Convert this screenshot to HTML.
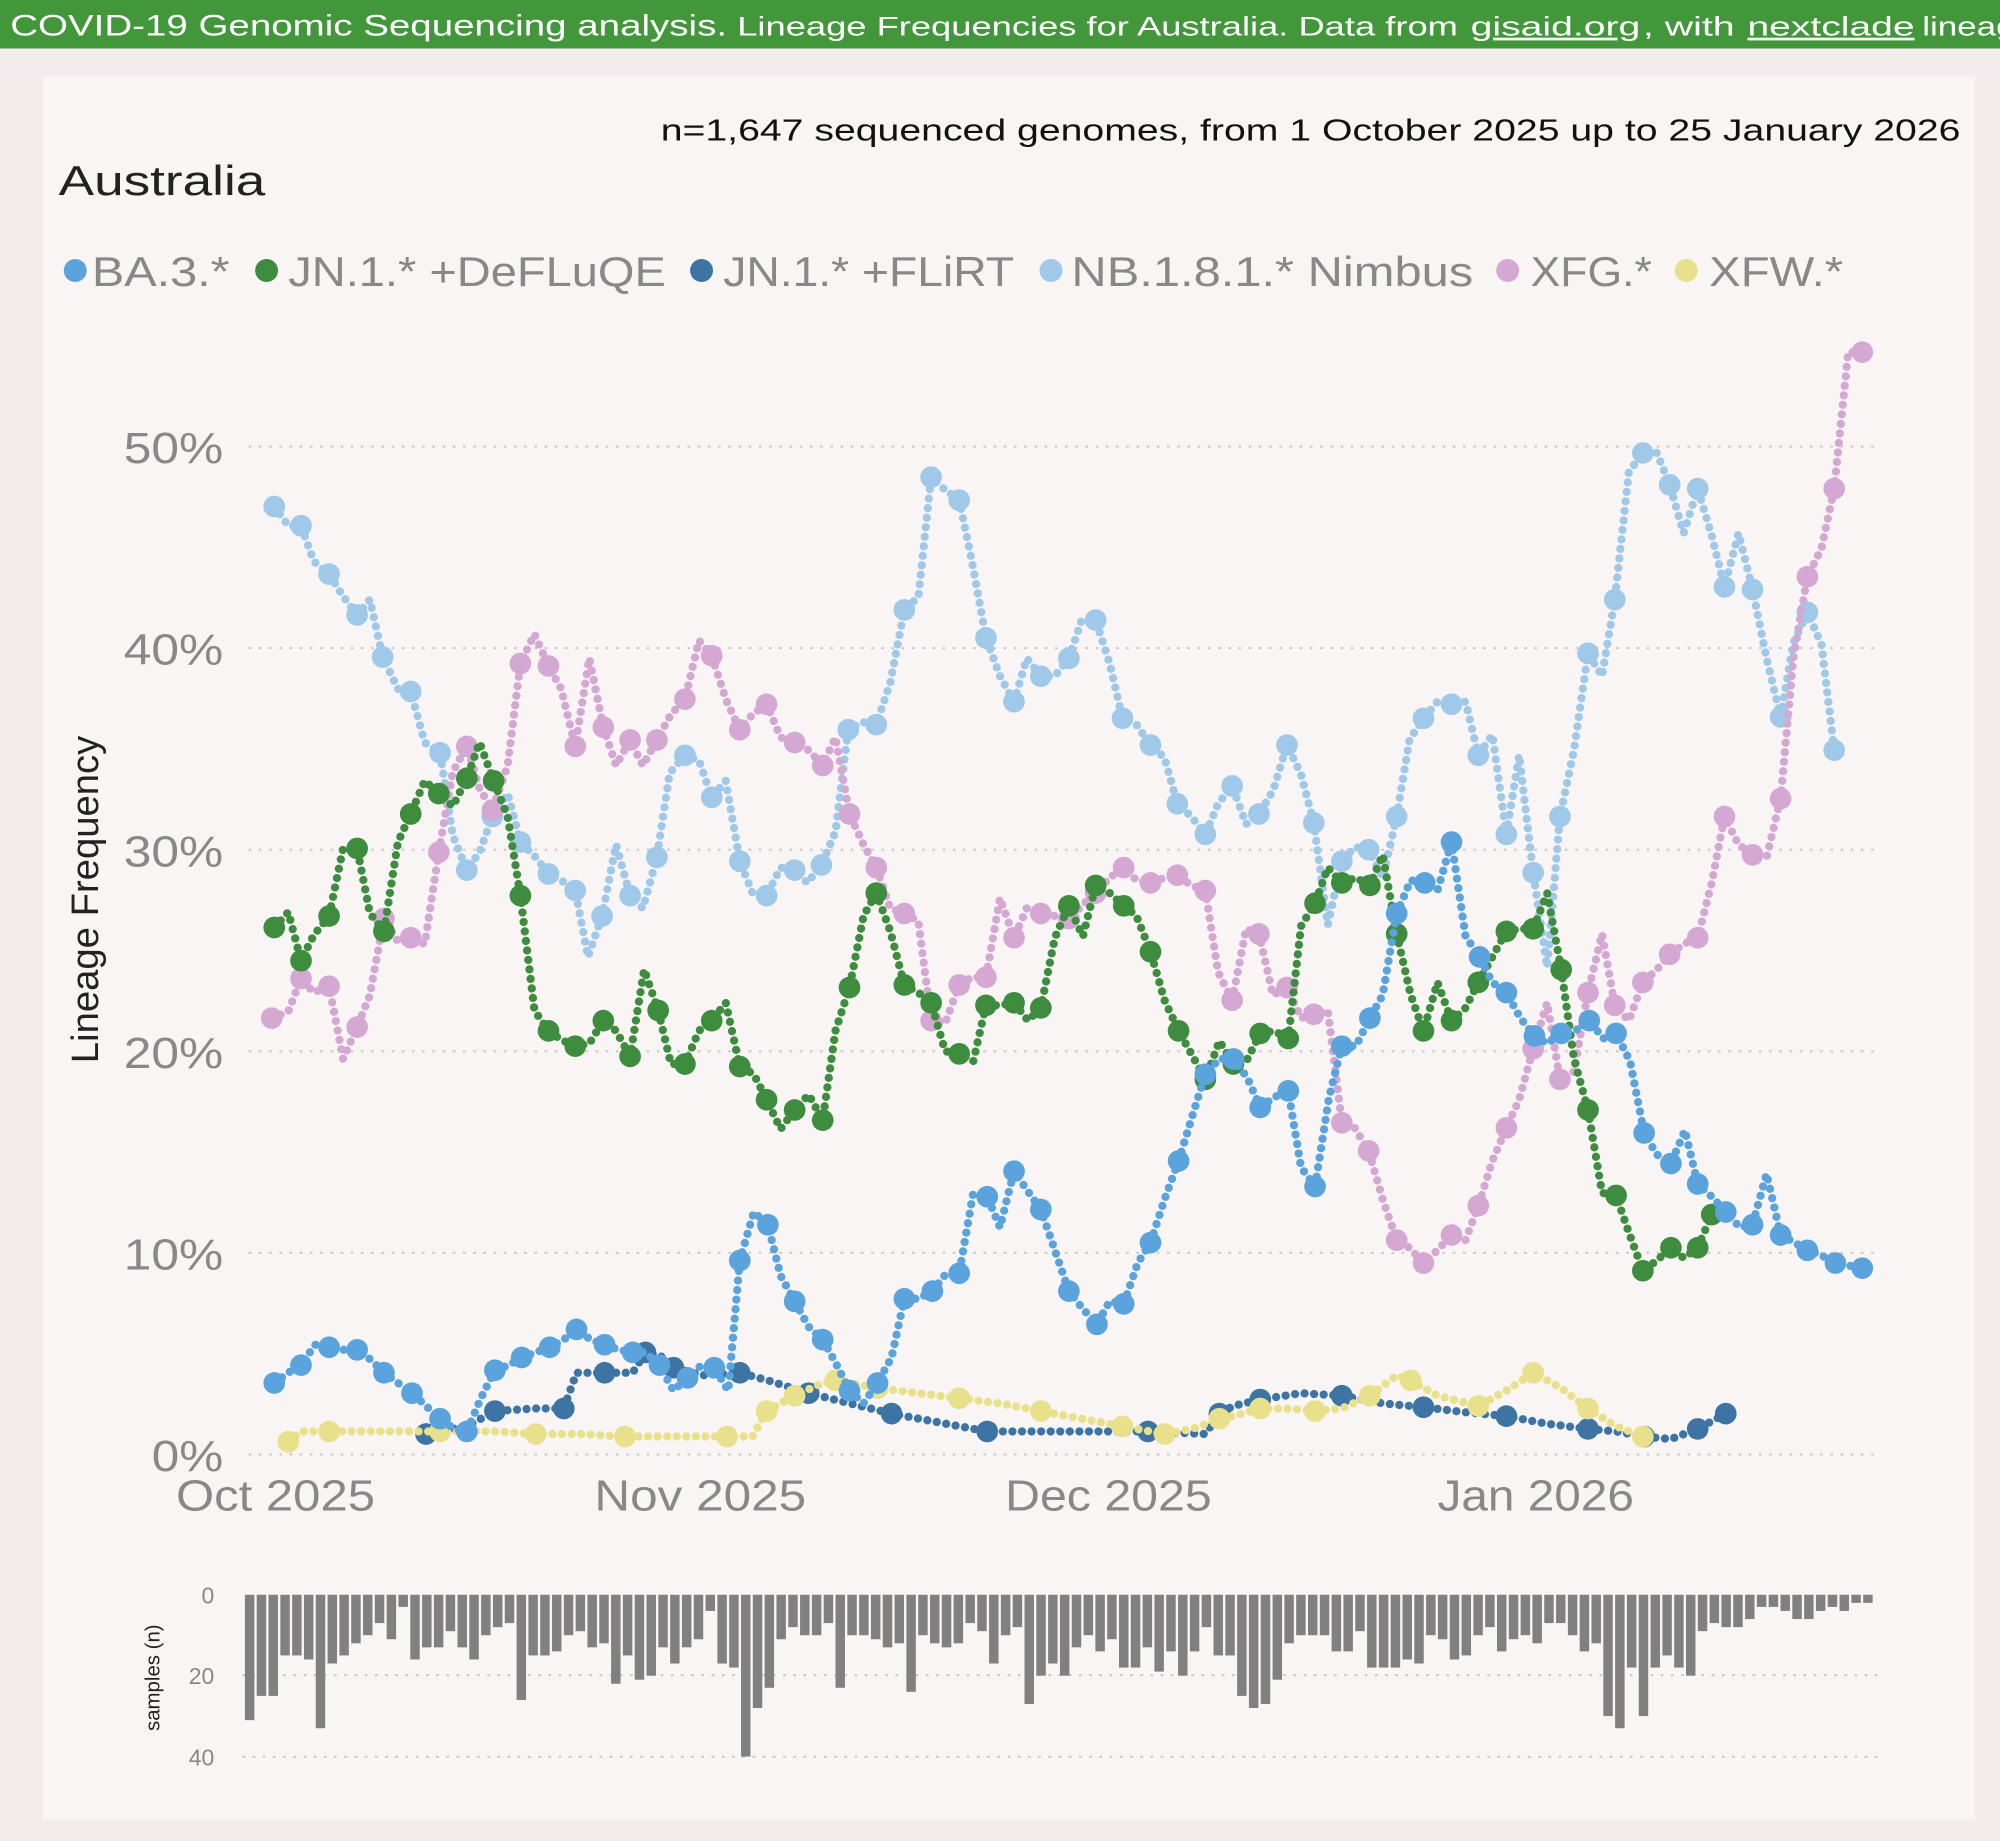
<!DOCTYPE html>
<html><head><meta charset="utf-8">
<style>
html,body{margin:0;padding:0;background:#f2ecec;}
svg{display:block;}
</style></head>
<body>
<svg id="s" width="2000" height="1841" viewBox="0 0 1568 1443" preserveAspectRatio="none" xmlns="http://www.w3.org/2000/svg" font-family="Liberation Sans, DejaVu Sans, sans-serif">
<rect x="0" y="0" width="1568" height="1443" fill="#f2ecec"/>
<rect x="34" y="60" width="1514" height="1366" fill="#f8f5f4"/>
<rect x="0" y="0" width="1568" height="38" fill="#43973b"/>
<g fill="#fff">
<text x="8" y="28" font-size="23" textLength="562" lengthAdjust="spacingAndGlyphs">COVID-19 Genomic Sequencing analysis.</text>
<text x="578" y="28" font-size="21" textLength="565" lengthAdjust="spacingAndGlyphs">Lineage Frequencies for Australia. Data from</text>
<text x="1153" y="28" font-size="21" textLength="133" lengthAdjust="spacingAndGlyphs" text-decoration="underline">gisaid.org</text>
<text x="1288" y="28" font-size="21" textLength="72" lengthAdjust="spacingAndGlyphs">, with</text>
<text x="1370" y="28" font-size="21" textLength="131" lengthAdjust="spacingAndGlyphs" text-decoration="underline">nextclade</text>
<text x="1507" y="28" font-size="21" textLength="250" lengthAdjust="spacingAndGlyphs">lineage assignments</text>
</g>
<text x="518" y="110" font-size="24" fill="#111" textLength="1019" lengthAdjust="spacingAndGlyphs">n=1,647 sequenced genomes, from 1 October 2025 up to 25 January 2026</text>
<text x="46" y="153" font-size="33" fill="#222" textLength="162" lengthAdjust="spacingAndGlyphs">Australia</text>
<g font-size="33" fill="#888">
<circle cx="59" cy="212" r="9" fill="#5aa3dc"/><text x="72" y="224" textLength="108" lengthAdjust="spacingAndGlyphs">BA.3.*</text>
<circle cx="209" cy="212" r="9" fill="#3e8c3e"/><text x="226" y="224" textLength="296" lengthAdjust="spacingAndGlyphs">JN.1.* +DeFLuQE</text>
<circle cx="550" cy="212" r="9" fill="#3d74a4"/><text x="567" y="224" textLength="228" lengthAdjust="spacingAndGlyphs">JN.1.* +FLiRT</text>
<circle cx="824" cy="212" r="9" fill="#a0c8e8"/><text x="840" y="224" textLength="315" lengthAdjust="spacingAndGlyphs">NB.1.8.1.* Nimbus</text>
<circle cx="1182" cy="212" r="9" fill="#d4a8d2"/><text x="1200" y="224" textLength="95" lengthAdjust="spacingAndGlyphs">XFG.*</text>
<circle cx="1322" cy="212" r="9" fill="#e8e08a"/><text x="1340" y="224" textLength="105" lengthAdjust="spacingAndGlyphs">XFW.*</text>
</g>
<g stroke="#c8c4c4" stroke-width="1.5" stroke-dasharray="2 6">
<line x1="195" y1="350" x2="1475" y2="350"/><line x1="195" y1="508" x2="1475" y2="508"/>
<line x1="195" y1="666" x2="1475" y2="666"/><line x1="195" y1="824" x2="1475" y2="824"/>
<line x1="195" y1="982" x2="1475" y2="982"/><line x1="195" y1="1140" x2="1475" y2="1140"/>
<line x1="190" y1="1313" x2="1475" y2="1313"/><line x1="190" y1="1377" x2="1475" y2="1377"/>
</g>
<g font-size="34" fill="#888">
<text x="97" y="363" textLength="78" lengthAdjust="spacingAndGlyphs">50%</text><text x="97" y="521" textLength="78" lengthAdjust="spacingAndGlyphs">40%</text><text x="97" y="679" textLength="78" lengthAdjust="spacingAndGlyphs">30%</text>
<text x="97" y="837" textLength="78" lengthAdjust="spacingAndGlyphs">20%</text><text x="97" y="995" textLength="78" lengthAdjust="spacingAndGlyphs">10%</text><text x="119" y="1153" textLength="56" lengthAdjust="spacingAndGlyphs">0%</text>
</g>
<g font-size="34" fill="#888">
<text x="138" y="1184" textLength="156" lengthAdjust="spacingAndGlyphs">Oct 2025</text><text x="466" y="1184" textLength="166" lengthAdjust="spacingAndGlyphs">Nov 2025</text>
<text x="788" y="1184" textLength="162" lengthAdjust="spacingAndGlyphs">Dec 2025</text><text x="1127" y="1184" textLength="154" lengthAdjust="spacingAndGlyphs">Jan 2026</text>
</g>
<text transform="translate(77,705) rotate(-90)" font-size="30" fill="#222" text-anchor="middle">Lineage Frequency</text>
<g font-size="18" fill="#888" text-anchor="end">
<text x="168" y="1257">0</text><text x="168" y="1320">20</text><text x="168" y="1384">40</text>
</g>
<text transform="translate(125,1315) rotate(-90)" font-size="16" fill="#222" text-anchor="middle">samples (n)</text>
<g id="bars" fill="#808080"></g>
<g id="series"></g>
</svg>
<script>
var NS="http://www.w3.org/2000/svg";
var bv=[31,25,25,15,15,16,33,17,15,12,10,7,11,3,16,13,13,9,13,16,10,8,7,26,15,15,14,10,9,13,12,22,15,21,20,13,17,13,11,4,17,18,40,28,23,11,8,10,10,7,23,10,10,11,13,12,24,10,12,13,12,7,9,17,10,8,27,20,17,20,13,10,14,11,18,18,13,19,14,20,14,8,15,15,25,28,27,21,12,10,10,10,14,14,9,18,18,18,16,17,10,11,16,15,10,8,14,11,10,12,7,7,10,14,12,30,33,18,30,18,15,18,20,9,7,8,8,6,3,3,4,6,6,4,3,4,2,2];
var bg=document.getElementById("bars");var x0=192,x1=1470,w=(x1-x0)/bv.length;
bv.forEach(function(v,i){var r=document.createElementNS(NS,"rect");r.setAttribute("x",x0+i*w);r.setAttribute("y",1250);r.setAttribute("width",w*0.8);r.setAttribute("height",v*3.17);bg.appendChild(r);});
function P(s){return s.trim().split(/\)\s*,?\s*\(/).map(function(t){t=t.replace(/[()]/g,"");var a=t.split(",");return [+a[0],+a[1]];});}
var S=[
["#3d74a4","(334,1124),(366,1118),(388,1106),(420,1104),(442,1104),(452,1076),(474,1076),(496,1076),(506,1060),(517,1062),(528,1072),(550,1078),(580,1076),(602,1082),(634,1092),(666,1100),(699,1108),(731,1114),(774,1122),(840,1122),(900,1122),(945,1124),(956,1108),(967,1102),(988,1097),(1020,1092),(1052,1094),(1084,1100),(1116,1103),(1149,1107),(1181,1110),(1213,1116),(1245,1120),(1267,1122),(1289,1126),(1310,1128),(1331,1120),(1342,1114),(1353,1108)"],
["#e8e08a","(226,1130),(236,1122),(258,1122),(300,1122),(345,1122),(387,1122),(420,1124),(455,1124),(490,1126),(530,1126),(570,1126),(590,1126),(601,1106),(612,1100),(623,1094),(645,1084),(655,1082),(666,1084),(688,1088),(720,1092),(752,1096),(784,1100),(816,1106),(848,1112),(880,1118),(902,1122),(913,1124),(935,1120),(956,1112),(967,1110),(988,1104),(1010,1104),(1031,1106),(1052,1104),(1074,1094),(1095,1078),(1106,1082),(1127,1094),(1159,1102),(1181,1090),(1202,1076),(1224,1088),(1245,1104),(1267,1118),(1288,1126)"],
["#a0c8e8","(215,397),(226,412),(236,412),(246,440),(258,450),(268,466),(280,482),(290,470),(300,515),(312,540),(322,542),(333,582),(345,590),(355,655),(366,682),(376,668),(386,640),(398,622),(408,660),(420,672),(430,685),(440,690),(451,698),(461,750),(472,718),(483,662),(494,702),(504,712),(515,672),(525,606),(537,592),(548,596),(558,625),(569,612),(580,675),(590,700),(601,702),(612,680),(623,682),(633,692),(644,678),(655,652),(665,572),(676,566),(687,568),(698,535),(709,478),(720,468),(730,374),(741,384),(752,392),(762,440),(773,500),(784,530),(795,550),(805,516),(816,530),(827,530),(838,516),(848,486),(859,486),(870,520),(880,563),(891,568),(902,584),(913,594),(923,630),(934,640),(945,654),(955,630),(966,616),(977,646),(987,638),(998,620),(1009,584),(1020,607),(1030,645),(1041,725),(1052,675),(1062,664),(1073,666),(1084,688),(1095,640),(1105,580),(1116,563),(1127,550),(1138,552),(1149,550),(1159,592),(1170,576),(1181,654),(1191,592),(1202,684),(1213,758),(1223,640),(1234,588),(1245,512),(1256,530),(1266,470),(1277,370),(1288,355),(1299,355),(1309,380),(1320,418),(1331,383),(1342,420),(1352,460),(1363,418),(1374,462),(1385,516),(1396,562),(1406,504),(1417,480),(1428,505),(1438,588)"],
["#d4a8d2","(213,798),(226,793),(236,767),(246,778),(258,773),(269,830),(280,805),(290,780),(301,720),(312,738),(322,735),(333,740),(344,668),(355,605),(366,585),(376,618),(386,635),(398,600),(408,520),(419,497),(430,522),(440,540),(451,585),(462,516),(473,570),(483,600),(494,580),(504,600),(515,580),(526,560),(537,548),(548,502),(558,514),(569,548),(580,572),(590,560),(601,552),(612,578),(623,582),(634,588),(645,600),(655,578),(666,638),(677,662),(687,680),(698,712),(709,716),(720,722),(730,800),(741,802),(752,772),(762,766),(773,766),(784,704),(795,735),(805,712),(816,716),(827,718),(838,720),(848,710),(859,700),(870,688),(881,680),(891,690),(902,692),(913,688),(923,686),(934,694),(945,698),(955,762),(966,784),(977,728),(987,732),(998,780),(1009,774),(1020,798),(1030,795),(1041,792),(1052,880),(1062,884),(1073,902),(1084,940),(1095,972),(1105,978),(1116,990),(1127,980),(1138,968),(1149,972),(1159,945),(1170,910),(1181,884),(1191,862),(1202,822),(1213,786),(1223,846),(1234,840),(1245,778),(1256,732),(1266,788),(1277,800),(1288,770),(1299,760),(1309,748),(1320,740),(1331,735),(1342,692),(1352,640),(1363,662),(1374,670),(1385,672),(1396,626),(1406,516),(1417,452),(1428,430),(1438,383),(1449,276),(1460,276)"],
["#3e8c3e","(215,727),(226,715),(236,753),(246,733),(258,718),(269,665),(280,665),(290,716),(301,730),(312,660),(322,638),(333,612),(344,622),(355,632),(366,610),(376,582),(387,612),(398,640),(408,702),(419,792),(430,808),(440,815),(451,820),(462,818),(473,800),(483,808),(494,828),(505,760),(516,792),(526,834),(537,834),(548,808),(558,800),(569,786),(580,836),(591,842),(601,862),(612,885),(623,870),(634,858),(645,878),(655,808),(666,774),(677,718),(687,700),(698,730),(709,772),(720,778),(730,786),(741,824),(752,826),(763,832),(773,788),(784,788),(795,786),(806,800),(816,790),(827,735),(838,710),(849,734),(859,694),(870,700),(881,710),(891,718),(902,746),(913,784),(924,808),(934,826),(945,846),(956,816),(967,834),(977,832),(988,810),(999,808),(1010,814),(1020,726),(1031,708),(1041,680),(1052,692),(1063,688),(1074,694),(1084,670),(1095,732),(1106,780),(1116,808),(1127,770),(1138,800),(1149,790),(1159,770),(1170,750),(1181,730),(1192,728),(1202,728),(1213,700),(1224,760),(1234,830),(1245,870),(1256,935),(1267,937),(1277,966),(1288,996),(1299,988),(1310,978),(1320,986),(1331,978),(1342,952)"],
["#5aa3dc","(215,1084),(226,1076),(236,1070),(247,1054),(258,1056),(269,1058),(280,1058),(291,1066),(301,1076),(312,1084),(323,1092),(334,1102),(345,1112),(356,1120),(366,1122),(377,1096),(388,1074),(399,1070),(409,1064),(420,1060),(431,1056),(442,1050),(452,1042),(463,1050),(474,1054),(485,1058),(496,1060),(506,1060),(517,1070),(528,1090),(539,1080),(550,1070),(560,1072),(571,1090),(580,988),(591,950),(602,960),(612,1000),(623,1020),(634,1040),(645,1050),(655,1068),(666,1090),(677,1100),(688,1084),(699,1064),(709,1018),(720,1018),(731,1012),(742,998),(752,998),(763,935),(774,938),(784,962),(795,918),(806,934),(816,948),(827,980),(838,1012),(849,1026),(860,1038),(870,1020),(881,1022),(892,990),(902,974),(913,940),(924,910),(935,874),(945,842),(956,830),(967,830),(978,845),(988,868),(999,860),(1010,855),(1020,915),(1031,930),(1042,860),(1052,820),(1063,820),(1074,798),(1084,780),(1095,716),(1106,690),(1117,692),(1127,698),(1138,660),(1149,734),(1160,750),(1170,770),(1181,778),(1192,798),(1203,812),(1213,818),(1224,810),(1235,808),(1246,800),(1257,814),(1267,810),(1278,832),(1289,888),(1299,905),(1310,912),(1321,886),(1331,928),(1342,938),(1353,950),(1364,962),(1374,960),(1385,920),(1396,968),(1407,974),(1417,980),(1428,984),(1439,990),(1460,994)"]
];
var sg=document.getElementById("series");
S.forEach(function(s){var pts=P(s[1]);
 var pl=document.createElementNS(NS,"polyline");pl.setAttribute("points",pts.map(function(p){return p.join(",")}).join(" "));
 pl.setAttribute("fill","none");pl.setAttribute("stroke",s[0]);pl.setAttribute("stroke-width","6.5");pl.setAttribute("stroke-linecap","round");pl.setAttribute("stroke-dasharray","0 7.5");sg.appendChild(pl);
 pts.forEach(function(p,i){if(i%2&&i!=pts.length-1)return;var c=document.createElementNS(NS,"circle");c.setAttribute("cx",p[0]);c.setAttribute("cy",p[1]);c.setAttribute("r",8.5);c.setAttribute("fill",s[0]);sg.appendChild(c);});
});
</script>
</body></html>
